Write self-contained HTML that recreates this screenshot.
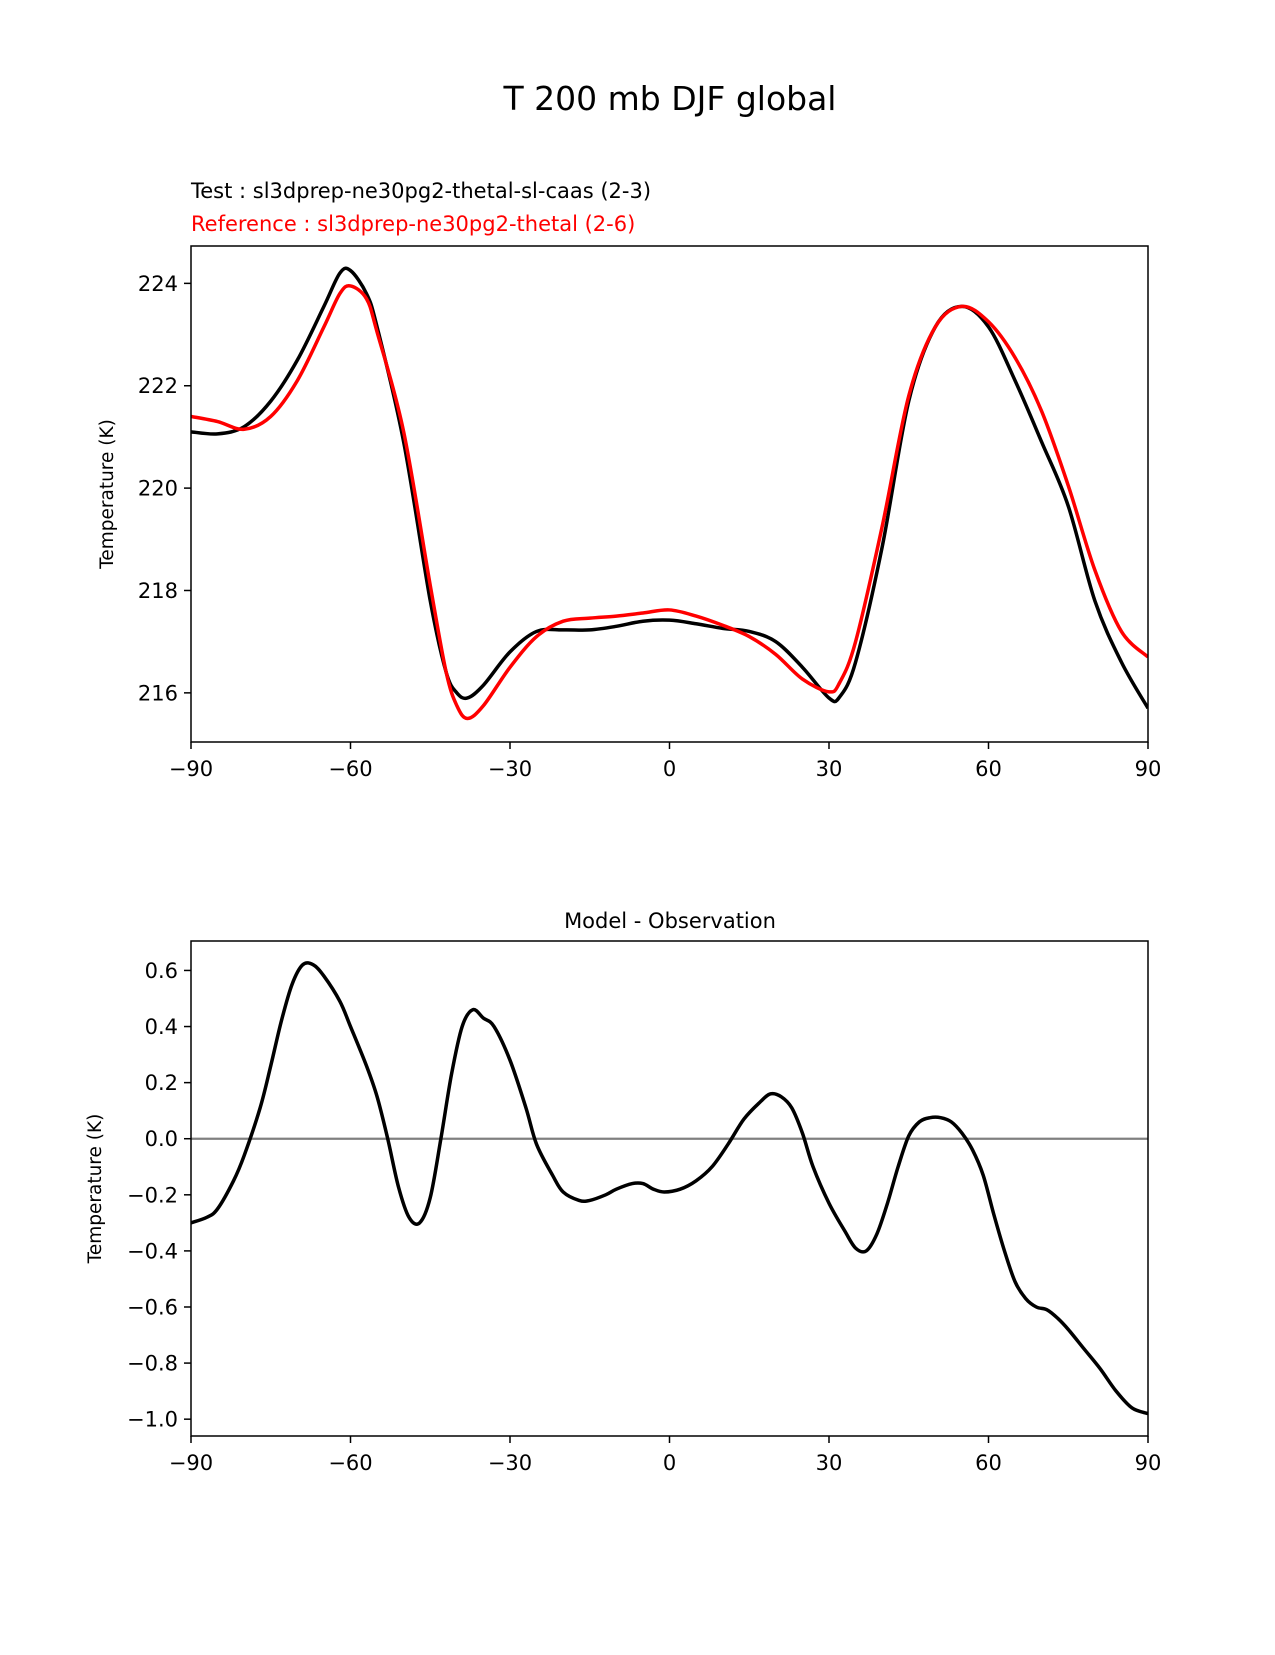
<!DOCTYPE html>
<html><head><meta charset="utf-8"><style>
html,body{margin:0;padding:0;background:#fff}
svg text{font-family:"DejaVu Sans","Liberation Sans",sans-serif}
</style></head><body>
<svg width="1275" height="1650" viewBox="0 0 1275 1650" xmlns="http://www.w3.org/2000/svg">
<text x="670" y="110" font-size="33" text-anchor="middle">T 200 mb DJF global</text>
<text x="191" y="198" font-size="21">Test : sl3dprep-ne30pg2-thetal-sl-caas (2-3)</text>
<text x="191" y="231" font-size="21" fill="#ff0000">Reference : sl3dprep-ne30pg2-thetal (2-6)</text>
<text x="670" y="928" font-size="21" text-anchor="middle">Model - Observation</text>
<g id="top"></g>
<g id="bot"></g>
</svg>
<script>
const lats1=[-90,-85,-80,-75,-70,-65,-62,-60,-57,-55,-50,-45,-42,-40,-38,-35,-30,-25,-20,-15,-10,-5,0,5,10,15,20,25,30,32,35,40,45,50,55,60,65,70,75,80,85,90];
const testT=[221.10,221.06,221.2,221.7,222.5,223.55,224.2,224.25,223.8,223.15,220.9,217.8,216.4,216.0,215.9,216.15,216.8,217.2,217.23,217.23,217.3,217.4,217.42,217.35,217.26,217.2,217.0,216.5,215.9,215.92,216.6,218.85,221.7,223.15,223.55,223.15,222.1,220.9,219.65,217.8,216.6,215.7];
const refT=[221.4,221.3,221.15,221.4,222.1,223.15,223.8,223.95,223.7,223.05,221.1,218.1,216.4,215.75,215.5,215.75,216.5,217.1,217.4,217.46,217.5,217.56,217.62,217.5,217.32,217.1,216.75,216.27,216.02,216.2,217.0,219.25,221.8,223.15,223.55,223.25,222.55,221.5,220.05,218.4,217.2,216.7];
const lats2=[-90,-87,-85,-82,-80,-77,-75,-73,-71,-69,-67,-65,-62,-60,-57,-55,-53,-51,-49,-47,-45,-43,-41,-39,-37,-35,-33,-30,-27,-25,-22,-20,-17,-15,-12,-10,-7,-5,-3,-1,2,5,8,11,14,17,19,21,23,25,27,30,33,35,37,39,41,43,45,47,49,51,53,55,57,59,61,63,65,67,69,71,73,75,78,81,84,87,90];
const diffT=[-0.30,-0.28,-0.25,-0.15,-0.06,0.11,0.26,0.42,0.55,0.62,0.62,0.58,0.49,0.40,0.26,0.15,0.0,-0.17,-0.28,-0.30,-0.21,0.0,0.23,0.40,0.46,0.43,0.40,0.28,0.11,-0.02,-0.13,-0.19,-0.22,-0.22,-0.20,-0.18,-0.16,-0.16,-0.18,-0.19,-0.18,-0.15,-0.10,-0.02,0.07,0.13,0.16,0.15,0.11,0.02,-0.10,-0.23,-0.33,-0.39,-0.40,-0.34,-0.23,-0.10,0.01,0.06,0.075,0.075,0.06,0.02,-0.04,-0.13,-0.27,-0.40,-0.51,-0.57,-0.60,-0.61,-0.64,-0.68,-0.75,-0.82,-0.90,-0.96,-0.98];
const xTicks=[-90,-60,-30,0,30,60,90];
const xTickLabels=["\u221290","\u221260","\u221230","0","30","60","90"];
const yTicks1=[216,218,220,222,224];
const yTicks2=[-1.0,-0.8,-0.6,-0.4,-0.2,0.0,0.2,0.4,0.6];
const NS="http://www.w3.org/2000/svg";
function mk(tag,attrs,parent){const e=document.createElementNS(NS,tag);for(const k in attrs)e.setAttribute(k,attrs[k]);parent.appendChild(e);return e;}
function smooth(pts){let d="M"+pts[0][0]+","+pts[0][1];for(let i=0;i<pts.length-1;i++){const p0=pts[Math.max(0,i-1)],p1=pts[i],p2=pts[i+1],p3=pts[Math.min(pts.length-1,i+2)];const c1x=p1[0]+(p2[0]-p0[0])/6,c1y=p1[1]+(p2[1]-p0[1])/6,c2x=p2[0]-(p3[0]-p1[0])/6,c2y=p2[1]-(p3[1]-p1[1])/6;d+=" C"+c1x.toFixed(2)+","+c1y.toFixed(2)+" "+c2x.toFixed(2)+","+c2y.toFixed(2)+" "+p2[0].toFixed(2)+","+p2[1].toFixed(2);}return d;}
function panel(g,top,bot,ymin,ymax,yticks,fmt,label,labelX){
  const L=191,R=1148;
  const xs=v=>L+(v+90)/180*(R-L);
  const ys=v=>bot-(v-ymin)/(ymax-ymin)*(bot-top);
  mk("clipPath",{id:"c"+top},g).appendChild(document.createElementNS(NS,"rect"));
  const cr=g.lastChild.firstChild;cr.setAttribute("x",L);cr.setAttribute("y",top);cr.setAttribute("width",R-L);cr.setAttribute("height",bot-top);
  xTicks.forEach((t,i)=>{const x=xs(t);
    const tk=mk("line",{x1:x,x2:x,y1:bot,y2:bot+7,stroke:"#000","stroke-width":1.5},g);
    
    
    const tl=mk("text",{x:x,y:bot+34,"font-size":21,"text-anchor":"middle"},g);tl.textContent=xTickLabels[i];
    
    });
  yticks.forEach(t=>{const y=ys(t);
    const tk=mk("line",{x1:L-7,x2:L,y1:y,y2:y,stroke:"#000","stroke-width":1.5},g);
    
    
    const tl=mk("text",{x:L-13,y:y+7.5,"font-size":21,"text-anchor":"end"},g);tl.textContent=fmt(t);
    
    });
  const yl=mk("text",{x:0,y:0,"font-size":18.5,"text-anchor":"middle",transform:"translate("+labelX+","+((top+bot)/2)+") rotate(-90)"},g);yl.textContent=label;
  
  
  return {xs,ys,clip:"url(#c"+top+")",L,R,top,bot};
}
function frame(g,a){const r=mk("rect",{x:a.L,y:a.top,width:a.R-a.L,height:a.bot-a.top,fill:"none",stroke:"#000","stroke-width":1.5},g);
  
  }
const gt=document.getElementById("top");


const a1=panel(gt,246,742,215.04,224.73,yTicks1,t=>String(t),"Temperature (K)",113);
const pTest=mk("path",{d:smooth(lats1.map((v,i)=>[a1.xs(v),a1.ys(testT[i])])),fill:"none",stroke:"#000","stroke-width":3.5,"stroke-linejoin":"round","clip-path":a1.clip},gt);


const pRef=mk("path",{d:smooth(lats1.map((v,i)=>[a1.xs(v),a1.ys(refT[i])])),fill:"none",stroke:"#ff0000","stroke-width":3.5,"stroke-linejoin":"round","clip-path":a1.clip},gt);


frame(gt,a1);
const gb=document.getElementById("bot");


const a2=panel(gb,941,1436,-1.06,0.705,yTicks2,t=>(t<0?"\u2212":"")+Math.abs(t).toFixed(1),"Temperature (K)",101);
const z=mk("line",{x1:a2.L,x2:a2.R,y1:a2.ys(0),y2:a2.ys(0),stroke:"#808080","stroke-width":2.2},gb);


const pDiff=mk("path",{d:smooth(lats2.map((v,i)=>[a2.xs(v),a2.ys(diffT[i])])),fill:"none",stroke:"#000","stroke-width":3.5,"stroke-linejoin":"round","clip-path":a2.clip},gb);


frame(gb,a2);
</script>
</body></html>
